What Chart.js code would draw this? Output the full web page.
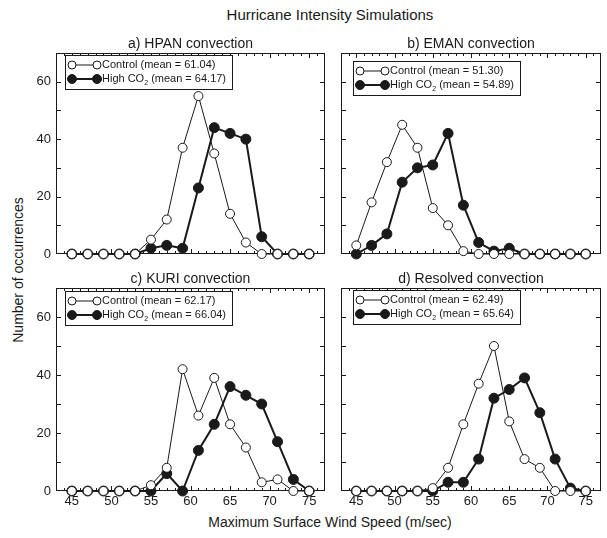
<!DOCTYPE html>
<html>
<head>
<meta charset="utf-8">
<script src="https://cdn.jsdelivr.net/npm/chart.js@4.4.0/dist/chart.umd.min.js"></script>
<style>
    body { margin: 0; background: #fff; width: 607px; height: 538px; position: relative; overflow: hidden;
           font-family: 'Liberation Sans', Arial, sans-serif; color: #1a1a1a; }
    .panel { position: absolute; }
    #mainTitle { position: absolute; left: 330px; top: 6px; transform: translateX(-50%); font-size: 15px; white-space: nowrap; }
    #xTitle { position: absolute; left: 330px; top: 514px; transform: translateX(-50%); font-size: 14px; white-space: nowrap; }
    #yTitle { position: absolute; left: 18px; top: 270px; transform: translate(-50%, -50%) rotate(-90deg); font-size: 14px; white-space: nowrap; }
</style>
</head>
<body>
<div id="mainTitle">Hurricane Intensity Simulations</div>
<div id="yTitle">Number of occurrences</div>
<div id="xTitle">Maximum Surface Wind Speed (m/sec)</div>

<div class="panel" style="left:0px;top:30px;width:335px;height:245px;"><canvas id="hpanChart"></canvas></div>
<div class="panel" style="left:335px;top:30px;width:272px;height:245px;"><canvas id="emanChart"></canvas></div>
<div class="panel" style="left:0px;top:270px;width:335px;height:250px;"><canvas id="kuriChart"></canvas></div>
<div class="panel" style="left:335px;top:270px;width:272px;height:250px;"><canvas id="resolvedChart"></canvas></div>

<script>
// Vitesses de vent (m/s) - centres des classes
const windSpeed = [45, 47, 49, 51, 53, 55, 57, 59, 61, 63, 65, 67, 69, 71, 73, 75];
const xTickLabels = [45, 50, 55, 60, 65, 70, 75];
const yTickLabels = [0, 20, 40, 60];

// a) HPAN
const hpanControl = [0, 0, 0, 0, 0, 5, 12, 37, 55, 35, 14, 4, 0, 0, 0, 0];
const hpanHigh    = [0, 0, 0, 0, 0, 2, 3, 2, 23, 44, 42, 40, 6, 0, 0, 0];
// b) EMAN
const emanControl = [3, 18, 32, 45, 37, 16, 10, 1, 0, 0, 0, 0, 0, 0, 0, 0];
const emanHigh    = [0, 3, 7, 25, 30, 31, 42, 17, 4, 1, 2, 0, 0, 0, 0, 0];
// c) KURI
const kuriControl = [0, 0, 0, 0, 0, 2, 8, 42, 26, 39, 23, 15, 3, 4, 0, 0];
const kuriHigh    = [0, 0, 0, 0, 0, 0, 6, 0, 14, 23, 36, 33, 30, 17, 4, 0];
// d) Resolved
const resolvedControl = [0, 0, 0, 0, 0, 1, 8, 23, 37, 50, 24, 11, 8, 0, 0, 0];
const resolvedHigh    = [0, 0, 0, 0, 0, 0, 3, 3, 11, 32, 35, 39, 27, 11, 1, 0];

const controlMeans = ['61.04', '51.30', '62.17', '62.49'];
const highMeans    = ['64.17', '54.89', '66.04', '65.64'];

const FONT = "'Liberation Sans', Arial, sans-serif";
const INK = '#1a1a1a';

// Cadre, graduations internes, titre et légende de chaque panneau
const panelDecor = {
    id: 'panelDecor',
    beforeDatasetsDraw(chart, args, o) {
        const ctx = chart.ctx, a = chart.chartArea;
        const x = chart.scales.x, y = chart.scales.y;
        ctx.save();
        ctx.strokeStyle = INK;
        ctx.lineWidth = 1;
        ctx.strokeRect(Math.round(a.left) + 0.5, Math.round(a.top) + 0.5,
                       Math.round(a.right - a.left) - 1, Math.round(a.bottom - a.top) - 1);
        ctx.beginPath();
        for (let v = 44; v <= 76; v++) {
            const px = Math.round(x.getPixelForValue(v)) + 0.5;
            const len = v % 5 === 0 ? 5 : 3;
            ctx.moveTo(px, a.top); ctx.lineTo(px, a.top + len);
            ctx.moveTo(px, a.bottom); ctx.lineTo(px, a.bottom - len);
        }
        for (let v = 10; v < 70; v += 10) {
            const py = Math.round(y.getPixelForValue(v)) + 0.5;
            ctx.moveTo(a.left, py); ctx.lineTo(a.left + 5, py);
            ctx.moveTo(a.right, py); ctx.lineTo(a.right - 5, py);
        }
        ctx.stroke();
        ctx.restore();
    },
    afterDraw(chart, args, o) {
        const ctx = chart.ctx, a = chart.chartArea;
        ctx.save();
        ctx.fillStyle = INK;
        ctx.textAlign = 'center';
        ctx.textBaseline = 'middle';
        ctx.font = '14px ' + FONT;
        ctx.fillText(o.title, (a.left + a.right) / 2, a.top - 9);

        // légende
        const bx = a.left + o.legendDx, by = a.top + o.legendDy;
        ctx.fillStyle = '#fff';
        ctx.fillRect(bx, by, 167, 34);
        ctx.strokeStyle = INK;
        ctx.lineWidth = 1;
        ctx.strokeRect(bx + 0.5, by + 0.5, 167, 34);

        const rows = [
            {y: by + 10, lw: 1, r: 4, filled: false, parts: [['Control (mean = ' + o.controlMean + ')', 0]]},
            {y: by + 24, lw: 2, r: 4.5, filled: true, parts: [['High CO', 0], ['2', 1], [' (mean = ' + o.highMean + ')', 0]]}
        ];
        rows.forEach(function(row) {
            ctx.strokeStyle = INK;
            ctx.lineWidth = row.lw;
            ctx.beginPath();
            ctx.moveTo(bx + 7, row.y); ctx.lineTo(bx + 32, row.y);
            ctx.stroke();
            [bx + 7, bx + 32].forEach(function(cx) {
                ctx.beginPath();
                ctx.arc(cx, row.y, row.r, 0, Math.PI * 2);
                ctx.fillStyle = row.filled ? INK : '#fff';
                ctx.fill();
                ctx.lineWidth = 1;
                ctx.stroke();
            });
            let tx = bx + 37;
            ctx.fillStyle = INK;
            ctx.textAlign = 'left';
            row.parts.forEach(function(p) {
                ctx.font = (p[1] ? '7px ' : '11px ') + FONT;
                ctx.fillText(p[0], tx, row.y + (p[1] ? 4 : 0));
                tx += ctx.measureText(p[0]).width;
            });
        });
        ctx.restore();
    }
};

function makePanel(id, opts) {
    const el = document.getElementById(id);
    if (!el) return;
    new Chart(el, {
        type: 'line',
        data: {
            datasets: [{
                label: 'Control',
                data: windSpeed.map((w, i) => ({x: w, y: opts.control[i]})),
                borderColor: INK,
                borderWidth: 1,
                pointRadius: 4.5,
                pointBorderWidth: 1,
                pointBackgroundColor: '#fff',
                pointBorderColor: INK,
                clip: false
            }, {
                label: 'High CO2',
                data: windSpeed.map((w, i) => ({x: w, y: opts.high[i]})),
                borderColor: INK,
                borderWidth: 2,
                pointRadius: 5,
                pointBorderWidth: 1,
                pointBackgroundColor: INK,
                pointBorderColor: INK,
                clip: false
            }]
        },
        options: {
            responsive: true,
            maintainAspectRatio: false,
            animation: false,
            events: [],
            layout: { padding: opts.padding },
            plugins: {
                legend: { display: false },
                tooltip: { enabled: false },
                panelDecor: opts.decor
            },
            scales: {
                x: {
                    type: 'linear',
                    min: 43,
                    max: 77,
                    grid: { display: false, drawTicks: false, tickLength: 0 },
                    border: { display: false },
                    afterBuildTicks: function(s) { s.ticks = xTickLabels.map(v => ({value: v})); },
                    afterFit: function(s) { s.height = opts.xHeight; },
                    ticks: {
                        display: opts.showX,
                        padding: 3,
                        color: INK,
                        font: { family: FONT, size: 13 }
                    }
                },
                y: {
                    min: 0,
                    max: 70,
                    grid: { display: false, drawTicks: false, tickLength: 0 },
                    border: { display: false },
                    afterBuildTicks: function(s) { s.ticks = yTickLabels.map(v => ({value: v})); },
                    afterFit: function(s) { s.width = opts.yWidth; },
                    ticks: {
                        display: opts.showY,
                        padding: 5,
                        color: INK,
                        font: { family: FONT, size: 13 }
                    }
                }
            }
        },
        plugins: [panelDecor]
    });
}

document.addEventListener('DOMContentLoaded', function() {
    makePanel('hpanChart', {
        control: hpanControl, high: hpanHigh,
        padding: {left: 0, right: 10, top: 23, bottom: 0},
        xHeight: 21, yWidth: 56, showX: false, showY: true,
        decor: {title: 'a) HPAN convection', controlMean: controlMeans[0], highMean: highMeans[0], legendDx: 9, legendDy: 2}
    });
    makePanel('emanChart', {
        control: emanControl, high: emanHigh,
        padding: {left: 0, right: 2, top: 23, bottom: 0},
        xHeight: 21, yWidth: 5, showX: false, showY: false,
        decor: {title: 'b) EMAN convection', controlMean: controlMeans[1], highMean: highMeans[1], legendDx: 12, legendDy: 8}
    });
    makePanel('kuriChart', {
        control: kuriControl, high: kuriHigh,
        padding: {left: 0, right: 10, top: 18, bottom: 0},
        xHeight: 29, yWidth: 56, showX: true, showY: true,
        decor: {title: 'c) KURI convection', controlMean: controlMeans[2], highMean: highMeans[2], legendDx: 9, legendDy: 3}
    });
    makePanel('resolvedChart', {
        control: resolvedControl, high: resolvedHigh,
        padding: {left: 0, right: 2, top: 18, bottom: 0},
        xHeight: 29, yWidth: 5, showX: true, showY: false,
        decor: {title: 'd) Resolved convection', controlMean: controlMeans[3], highMean: highMeans[3], legendDx: 12, legendDy: 2}
    });
});
</script>
</body>
</html>
